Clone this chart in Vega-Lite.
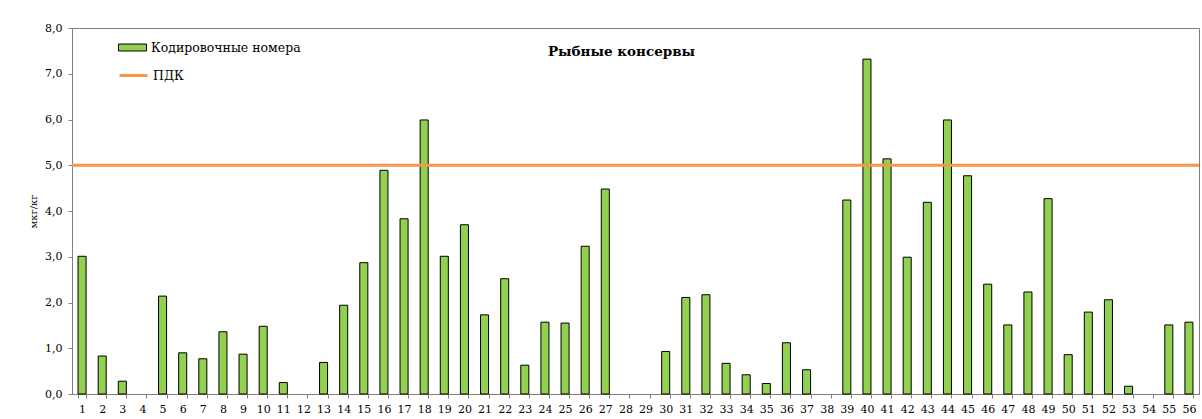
{
  "$schema": "https://vega.github.io/schema/vega-lite/v6.json",
  "autosize": "none",
  "width": 1127,
  "height": 366,
  "padding": {"left": 72, "top": 28, "right": 3, "bottom": 25},
  "background": "white",
  "config": {
    "locale": {"number": {"decimal": ",", "thousands": " ", "grouping": [3], "currency": ["", ""]}},
    "view": {"stroke": "#808080", "strokeWidth": 1},
    "font": "DejaVu Serif",
    "axis": {"labelFont": "DejaVu Serif", "titleFont": "DejaVu Serif", "labelColor": "#000", "titleColor": "#000", "domainColor": "#808080", "tickColor": "#808080", "grid": false},
    "legend": {"labelFont": "DejaVu Serif", "labelColor": "#000"}
  },
  "title": {"text": "Рыбные консервы", "anchor": "middle", "dx": -14, "offset": -36, "fontSize": 13.5, "font": "DejaVu Serif", "fontWeight": "bold", "color": "#000"},
  "data": {"values": [
    {"n": 1, "v": 3.01}, {"n": 2, "v": 0.83}, {"n": 3, "v": 0.28}, {"n": 4, "v": 0},
    {"n": 5, "v": 2.14}, {"n": 6, "v": 0.9}, {"n": 7, "v": 0.77}, {"n": 8, "v": 1.36},
    {"n": 9, "v": 0.87}, {"n": 10, "v": 1.48}, {"n": 11, "v": 0.25}, {"n": 12, "v": 0},
    {"n": 13, "v": 0.69}, {"n": 14, "v": 1.94}, {"n": 15, "v": 2.87}, {"n": 16, "v": 4.89},
    {"n": 17, "v": 3.83}, {"n": 18, "v": 5.99}, {"n": 19, "v": 3.01}, {"n": 20, "v": 3.7},
    {"n": 21, "v": 1.73}, {"n": 22, "v": 2.52}, {"n": 23, "v": 0.63}, {"n": 24, "v": 1.57},
    {"n": 25, "v": 1.55}, {"n": 26, "v": 3.23}, {"n": 27, "v": 4.48}, {"n": 28, "v": 0},
    {"n": 29, "v": 0}, {"n": 30, "v": 0.93}, {"n": 31, "v": 2.11}, {"n": 32, "v": 2.17},
    {"n": 33, "v": 0.67}, {"n": 34, "v": 0.42}, {"n": 35, "v": 0.23}, {"n": 36, "v": 1.12},
    {"n": 37, "v": 0.53}, {"n": 38, "v": 0}, {"n": 39, "v": 4.24}, {"n": 40, "v": 7.32},
    {"n": 41, "v": 5.14}, {"n": 42, "v": 2.99}, {"n": 43, "v": 4.19}, {"n": 44, "v": 5.99},
    {"n": 45, "v": 4.77}, {"n": 46, "v": 2.4}, {"n": 47, "v": 1.51}, {"n": 48, "v": 2.23},
    {"n": 49, "v": 4.27}, {"n": 50, "v": 0.86}, {"n": 51, "v": 1.79}, {"n": 52, "v": 2.06},
    {"n": 53, "v": 0.17}, {"n": 54, "v": 0}, {"n": 55, "v": 1.51}, {"n": 56, "v": 1.57}
  ]},
  "layer": [
    {
      "mark": {"type": "bar", "stroke": "#000", "strokeWidth": 1},
      "encoding": {
        "x": {"field": "n", "type": "ordinal", "scale": {"paddingInner": 0.6, "paddingOuter": 0.3},
              "axis": {"title": null, "labelAngle": 0, "labelFontSize": 11, "tickBand": "extent", "tickSize": 4, "labelPadding": 5, "domainColor": "#808080"}},
        "y": {"field": "v", "type": "quantitative", "scale": {"domain": [0, 8], "nice": false},
              "axis": {"title": "мкг/кг", "titleFontSize": 10, "titleFontWeight": "normal", "titlePadding": 6, "values": [0, 1, 2, 3, 4, 5, 6, 7, 8], "format": ".1f", "labelFontSize": 11, "tickSize": 4, "labelPadding": 6}},
        "strokeOpacity": {"condition": {"test": "datum.v > 0", "value": 1}, "value": 0},
        "fill": {"datum": "Кодировочные номера", "type": "nominal", "scale": {"range": ["#92d050"]},
                 "legend": {"title": null, "orient": "none", "legendX": 46, "legendY": 5, "symbolType": "M-1,-0.25L1,-0.25L1,0.25L-1,0.25Z", "symbolSize": 784, "symbolStrokeColor": "#000", "symbolStrokeWidth": 1, "symbolFillColor": "#92d050", "labelFontSize": 12.5, "labelOffset": 4, "padding": 0}}
      }
    },
    {
      "data": {"values": [{"pdk": 5}]},
      "mark": {"type": "rule", "strokeWidth": 3},
      "encoding": {
        "y": {"field": "pdk", "type": "quantitative"},
        "stroke": {"datum": "ПДК", "type": "nominal", "scale": {"range": ["#f79646"]},
                   "legend": {"title": null, "orient": "none", "legendX": 46, "legendY": 32, "symbolType": "stroke", "symbolSize": 784, "symbolStrokeWidth": 3, "labelFontSize": 12.5, "labelOffset": 4, "padding": 0}}
      }
    }
  ]
}
